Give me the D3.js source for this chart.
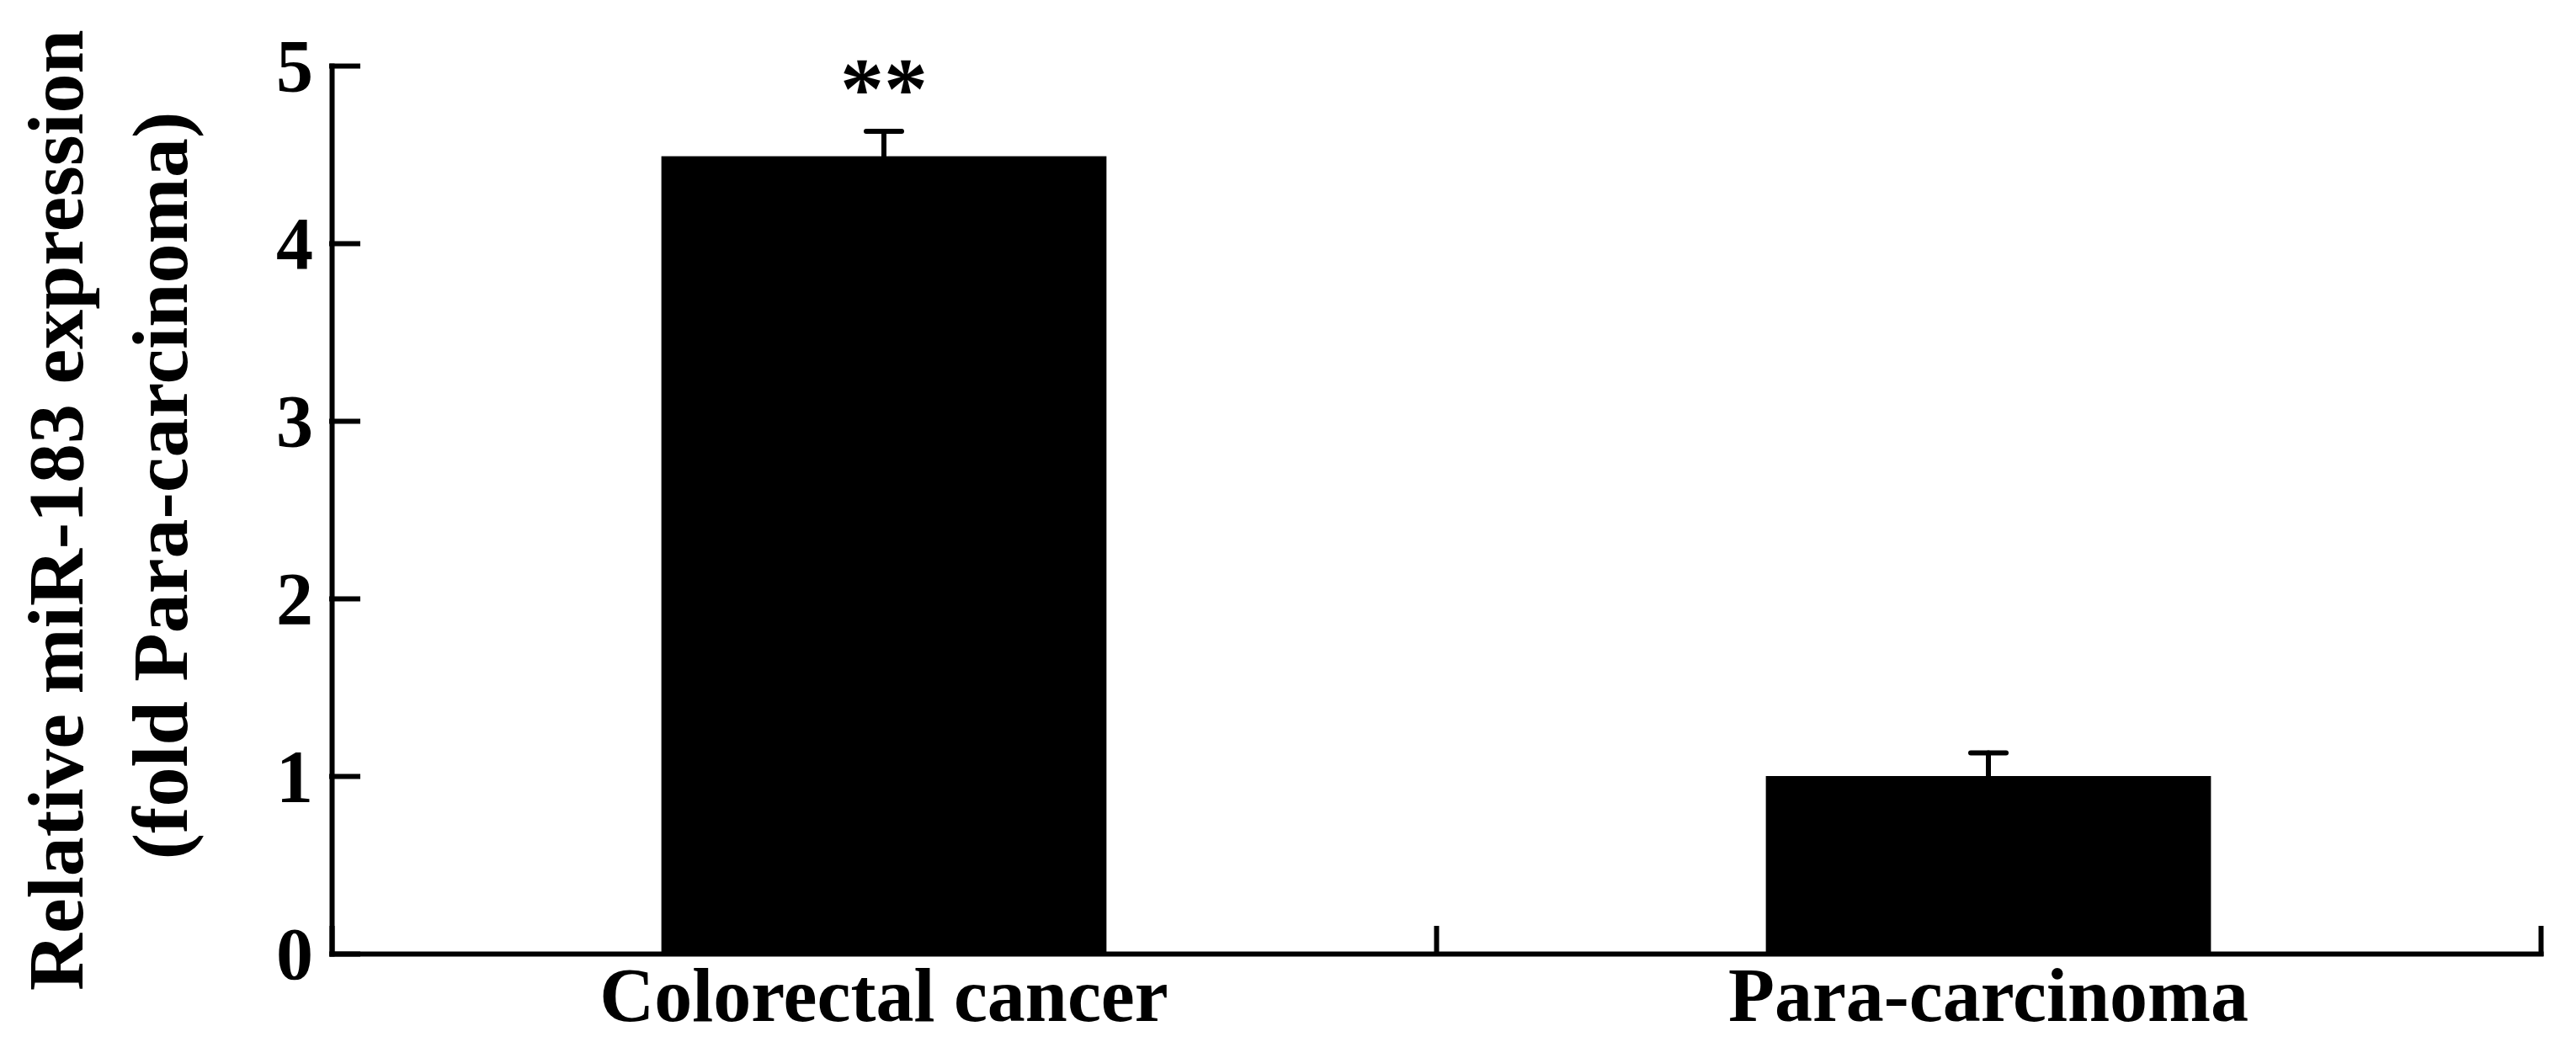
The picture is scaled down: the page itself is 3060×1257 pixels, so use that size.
<!DOCTYPE html>
<html lang="en">
  <head>
    <meta charset="utf-8">
    <title>Relative miR-183 expression</title>
    <script src="https://d3js.org/d3.v7.min.js"></script>
    <style>
      body { margin: 0; background: #ffffff; }
      svg { display: block; }
      text { font-family: "Liberation Serif", "Times New Roman", serif; font-weight: bold; fill: #000; }
    </style>
  </head>
  <body>
    <script type="text/javascript">
    // Data
    var categories = ["Colorectal cancer", "Para-carcinoma"];
    var means = [4.49, 1.00];
    var errors = [0.14, 0.13];
    var marks = ["**", ""];
    var yTicks = [0, 1, 2, 3, 4, 5];
    var yLabelLines = ["Relative miR-183 expression", "(fold Para-carcinoma)"];

    var dataset = categories.map(function(c, i) {
      return { name: c, mean: means[i], err: errors[i], mark: marks[i] };
    });

    var w = 3060;
    var h = 1257;
    var plotLeft = 394;
    var plotRight = 3018;
    var plotTop = 78;
    var plotBottom = 1133;
    var barFrac = 0.403;
    var lineW = 6;

    var svg = d3.select("body")
                .append("svg")
                .attr("width", w)
                .attr("height", h);

    svg.append("rect")
       .attr("width", w)
       .attr("height", h)
       .attr("fill", "#ffffff");

    // Scales
    var yScale = d3.scaleLinear()
                   .domain([0, 5])
                   .range([plotBottom, plotTop]);

    var xScale = d3.scaleBand()
                   .domain(categories)
                   .range([plotLeft, plotRight]);

    // tick scale for the band boundaries on the x axis
    var xTickScale = d3.scaleLinear()
                       .domain([0, categories.length])
                       .range(xScale.range());

    var barW = xScale.bandwidth() * barFrac;

    // Bars
    svg.selectAll("rect.bar")
       .data(dataset)
       .enter()
       .append("rect")
       .attr("class", "bar")
       .attr("x", function(d) { return xScale(d.name) + (xScale.bandwidth() - barW) / 2; })
       .attr("y", function(d) { return yScale(d.mean); })
       .attr("width", barW)
       .attr("height", function(d) { return yScale(0) - yScale(d.mean); })
       .attr("fill", "#000");

    // Error bars (upper half only)
    var errG = svg.selectAll("g.err")
                  .data(dataset)
                  .enter()
                  .append("g")
                  .attr("class", "err")
                  .attr("stroke", "#000")
                  .attr("stroke-width", lineW)
                  .attr("stroke-linecap", "round");

    errG.append("line")
        .attr("x1", function(d) { return xScale(d.name) + xScale.bandwidth() / 2; })
        .attr("x2", function(d) { return xScale(d.name) + xScale.bandwidth() / 2; })
        .attr("y1", function(d) { return yScale(d.mean); })
        .attr("y2", function(d) { return yScale(d.mean + d.err); });

    errG.append("line")
        .attr("x1", function(d) { return xScale(d.name) + xScale.bandwidth() / 2 - 21; })
        .attr("x2", function(d) { return xScale(d.name) + xScale.bandwidth() / 2 + 21; })
        .attr("y1", function(d) { return yScale(d.mean + d.err); })
        .attr("y2", function(d) { return yScale(d.mean + d.err); });

    // Significance marks
    svg.selectAll("text.mark")
       .data(dataset)
       .enter()
       .append("text")
       .attr("class", "mark")
       .attr("x", function(d) { return xScale(d.name) + xScale.bandwidth() / 2; })
       .attr("y", function(d) { return yScale(d.mean + d.err) - 16; })
       .attr("text-anchor", "middle")
       .attr("font-size", 104)
       .text(function(d) { return d.mark; });

    // Y axis
    var yAxis = d3.axisLeft(yScale)
                  .tickValues(yTicks)
                  .tickFormat(d3.format("d"))
                  .tickSize(-31)
                  .tickSizeOuter(0)
                  .tickPadding(22);

    var gy = svg.append("g")
                .attr("transform", "translate(" + plotLeft + ",0)")
                .call(yAxis);
    gy.selectAll("path, line")
      .attr("stroke", "#000")
      .attr("stroke-width", lineW)
      .attr("stroke-linecap", "square");
    gy.selectAll("text")
      .attr("font-family", null)
      .attr("font-size", 88)
      .attr("dy", "0.34em");

    // X axis: line with ticks at band edges, pointing up
    var xAxis = d3.axisBottom(xTickScale)
                  .tickValues(d3.range(categories.length + 1))
                  .tickSize(-30)
                  .tickSizeOuter(0)
                  .tickFormat("");

    var gx = svg.append("g")
                .attr("transform", "translate(0," + plotBottom + ")")
                .call(xAxis);
    gx.selectAll("path, line")
      .attr("stroke", "#000")
      .attr("stroke-width", lineW)
      .attr("stroke-linecap", "square");

    // Category labels
    svg.selectAll("text.cat")
       .data(categories)
       .enter()
       .append("text")
       .attr("class", "cat")
       .attr("x", function(d) { return xScale(d) + xScale.bandwidth() / 2; })
       .attr("y", 1213)
       .attr("text-anchor", "middle")
       .attr("font-size", 90)
       .text(function(d) { return d; });

    // Y axis title, two lines
    var labelX = [98, 222];
    var labelY = [606, 577];
    svg.selectAll("text.ylab")
       .data(yLabelLines)
       .enter()
       .append("text")
       .attr("class", "ylab")
       .attr("transform", function(d, i) { return "translate(" + labelX[i] + "," + labelY[i] + ") rotate(-90)"; })
       .attr("text-anchor", "middle")
       .attr("font-size", 94)
       .text(function(d) { return d; });
    </script>
  </body>
</html>
